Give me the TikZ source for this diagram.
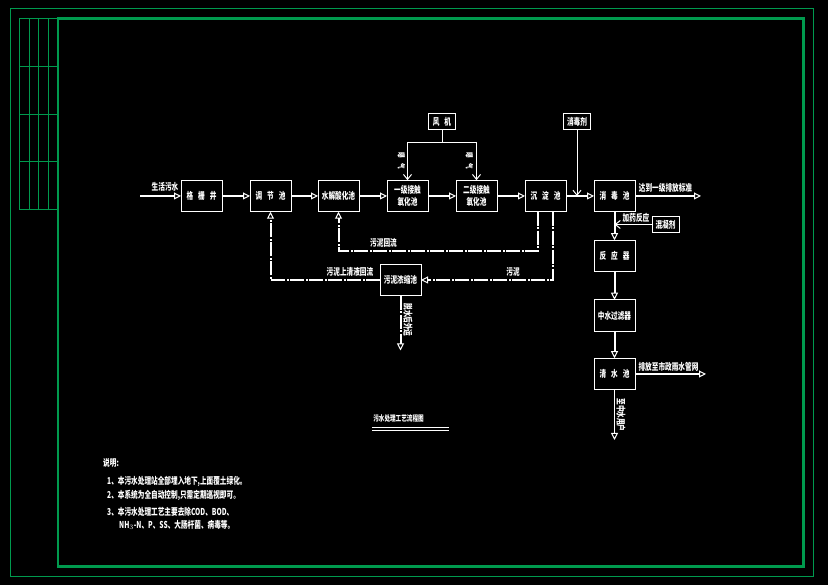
\documentclass[tikz,border=0pt]{standalone}
\usepackage{xcolor}
\usepackage{fontspec}
\usetikzlibrary{arrows.meta,positioning}
\newfontfamily\cjk[FakeStretch=0.7]{Noto Sans CJK SC}
\definecolor{framegreen}{HTML}{009A4E}
\newcommand{\gapc}{\hspace{5pt}}
\begin{document}
\begin{tikzpicture}[
  x=1pt,y=1pt,
  block/.style={draw=white,line width=1pt,inner sep=0pt,outer sep=0pt,minimum width=41pt,
    minimum height=31.5pt,align=center,text=white,font=\cjk\bfseries\fontsize{9.5}{11.5}\selectfont},
  smallblock/.style={block,minimum width=27pt,minimum height=16.5pt},
  note/.style={inner sep=0pt,text=white,font=\cjk\bfseries\fontsize{9.5}{11}\selectfont},
  tinynote/.style={note,font=\cjk\bfseries\fontsize{8}{9}\selectfont},
  flow/.style={white,line width=2pt,-{Triangle[open,length=7pt,width=7pt,line width=1pt]}},
  flowthin/.style={flow,line width=1.5pt},
  feed/.style={white,line width=1pt,-{Straight Barb[length=5pt,width=8pt]}},
  plainline/.style={white,line width=1pt},
  sludge/.style={flow,dash pattern=on 14pt off 1.5pt on 2pt off 1.5pt}
]
  \useasboundingbox (0,0) rectangle (828,585);
  \fill[black] (0,0) rectangle (828,585);

  % frame
  \draw[framegreen,line width=1pt] (10.3,8.3) rectangle (813.3,576.7);
  \draw[framegreen,line width=2.5pt] (58,18.3) rectangle (803.7,566.7);
  \foreach \gridx in {19.3,29.3,38.3,48.3}
    \draw[framegreen,line width=.8pt] (\gridx,566.7) -- (\gridx,375.7);
  \foreach \gridy in {566.7,518.7,470.7,423.7,375.7}
    \draw[framegreen,line width=.8pt] (19.3,\gridy) -- (58,\gridy);

  % main line
  \node[block] (geshan) at (201.5,389) {格\gapc 栅\gapc 井};
  \node[block,right=28pt of geshan] (tiaojie) {调\gapc 节\gapc 池};
  \node[block,right=27pt of tiaojie] (shuijie) {水解酸化池};
  \node[block,right=28pt of shuijie] (jiechu1) {一级接触\\氧化池};
  \node[block,right=28pt of jiechu1] (jiechu2) {二级接触\\氧化池};
  \node[block,right=28pt of jiechu2] (chendian) {沉\gapc 淀\gapc 池};
  \node[block,right=28pt of chendian] (xiaodu) {消\gapc 毒\gapc 池};
  \node[block,below=28.5pt of xiaodu] (fanying) {反\gapc 应\gapc 器};
  \node[block,below=28pt of fanying] (guolv) {中水过滤器};
  \node[block,below=27pt of guolv] (qingshui) {清\gapc 水\gapc 池};
  \node[block] (nongsuo) at (400.5,305) {污泥浓缩池};
  \node[smallblock] (fengji) at (442,463.5) {风\gapc 机};
  \node[smallblock] (xiaoduji) at (577,463.5) {消毒剂};
  \node[smallblock] (hunning) at (665.5,360.5) {混凝剂};

  \coordinate (inlet) at (140,389);
  \coordinate (outlet1) at (701,389);
  \coordinate (outlet2) at (706,211);
  \coordinate (outlet3) at (614.5,145);
  \coordinate (cake) at (400.5,234.5);
  \coordinate (airsplit) at (442,442);
  \coordinate (dosing) at (577,389);
  \coordinate (mixing) at (614.5,360.5);

  \draw[flow] (inlet) -- (geshan);
  \draw[flow] (geshan) -- (tiaojie);
  \draw[flow] (tiaojie) -- (shuijie);
  \draw[flow] (shuijie) -- (jiechu1);
  \draw[flow] (jiechu1) -- (jiechu2);
  \draw[flow] (jiechu2) -- (chendian);
  \draw[flow] (chendian) -- (xiaodu);
  \draw[flowthin] (xiaodu) -- (outlet1);
  \draw[flow] (xiaodu) -- (fanying);
  \draw[flow] (fanying) -- (guolv);
  \draw[flow] (guolv) -- (qingshui);
  \draw[flowthin] (qingshui) -- (outlet2);
  \draw[flowthin] (qingshui) -- (outlet3);

  % air and dosing
  \draw[plainline] (fengji) -- (airsplit);
  \draw[feed] (airsplit) -| (jiechu1);
  \draw[feed] (airsplit) -| (jiechu2);
  \draw[feed] (xiaoduji) -- (dosing);
  \draw[feed] (hunning) -- (mixing);

  % return lines
  \draw[sludge] ([xshift=-7.5pt]chendian.south) |- ++(-100pt,-39pt) -| (shuijie.south);
  \draw[sludge] ([xshift=7.5pt]chendian.south) |- (nongsuo.east);
  \draw[sludge] (nongsuo.west) -| (tiaojie.south);
  \draw[sludge] (nongsuo.south) -- (cake);

  % labels
  \node[note] (lblin) at (165,398) {生活污水};
  \node[note] (lblout1) at (665.5,397) {达到一级排放标准};
  \node[note] (lblout2) at (668.5,218) {排放至市政雨水管网};
  \node[note,rotate=-90] (lblout3) at (621,170) {至中水用户};
  \node[note,rotate=-90] (lblcake) at (408,265) {脱水后外运};
  \node[note] (lblreact) at (636,367) {加药反应};
  \node[note] (lblback) at (383.5,342) {污泥回流};
  \node[note] (lblclear) at (350,313) {污泥上清液回流};
  \node[note] (lblsludge) at (513,313) {污泥};
  \foreach \airx/\airname in {401.5/aira,469.5/airb}{
    \node[tinynote,rotate=-90] (lbl\airname) at (\airx,424) {曝\gapc 气};
  }

  \node[tinynote] (lbltitle) at (398.5,167) {污水处理工艺流程图};
  \draw[plainline] (372,157.3) -- (449,157.3);
  \draw[plainline] (372,154.7) -- (449,154.7);

  \node[note,anchor=west] (lblnote) at (103,122) {说明:};
  \node[note,anchor=west] (lblnote1) at (107,104) {1、本污水处理站全部埋入地下,上面覆土绿化。};
  \node[note,anchor=west] (lblnote2) at (107,89.5) {2、本系统为全自动控制,只需定期巡视即可。};
  \node[note,anchor=west] (lblnote3) at (107,73.5) {3、本污水处理工艺主要去除COD、BOD、};
  \node[note,anchor=west] (lblnote4) at (119,60) {NH$_3$-N、P、SS、大肠杆菌、病毒等。};
\end{tikzpicture}
\end{document}
